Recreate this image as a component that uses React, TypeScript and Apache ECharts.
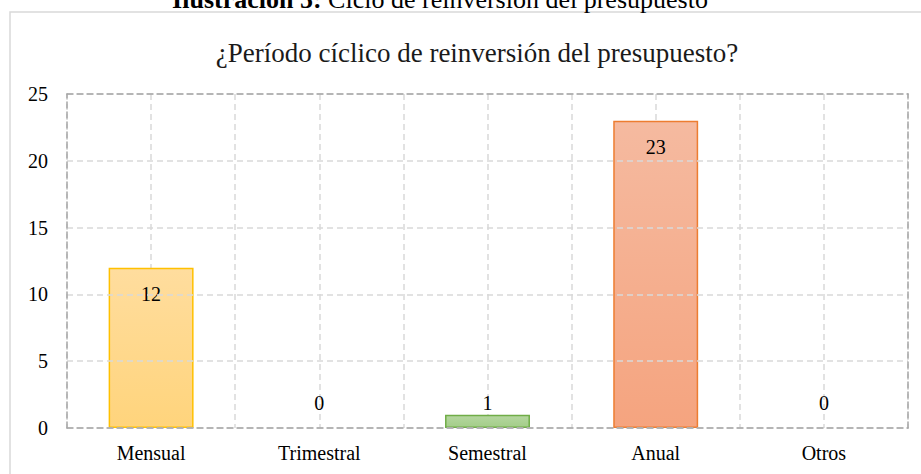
import React, { useEffect, useRef } from "react";
import * as echarts from "echarts";

const categories = ["Mensual", "Trimestral", "Semestral", "Anual", "Otros"];
const values = [12, 0, 1, 23, 0];
const yTicks = [0, 5, 10, 15, 20, 25];
const captionBold = "Ilustración 5:";
const captionRest = " Ciclo de reinversión del presupuesto";
const chartTitle = "¿Período cíclico de reinversión del presupuesto?";

const fills = [
  ["#FFDD9E", "#FFD47C", "#FFC000"],
  ["#FFDD9E", "#FFD47C", "#FFC000"],
  ["#B5D7A0", "#A3CD88", "#70AD47"],
  ["#F5BAA0", "#F5A47F", "#ED7D31"],
  ["#FFDD9E", "#FFD47C", "#FFC000"],
];

const FONT = "'Liberation Serif', 'Times New Roman', serif";

export default function App() {
  const ref = useRef<HTMLDivElement>(null);
  useEffect(() => {
    if (!ref.current) return;
    const chart = echarts.init(ref.current, undefined, { renderer: "svg" });
    const dark = "#A6A6A6";
    const light = "#D9D9D9";
    const dash = [6, 4];
    chart.setOption({
      animation: false,
      backgroundColor: "#fff",
      title: {
        text: chartTitle,
        left: 472,
        textAlign: "center",
        top: 34,
        textStyle: { fontFamily: FONT, fontSize: 27, fontWeight: "normal", color: "#1a1a1a" },
      },
      graphic: [
        {
          type: "rect",
          shape: { x: 10, y: 12, width: 1000, height: 600 },
          style: { fill: "none", stroke: light, lineWidth: 1.5 },
          silent: true,
        },
        {
          type: "text",
          x: 440,
          y: 9,
          style: {
            text: "{b|" + captionBold + "}{n|" + captionRest + "}",
            align: "center",
            verticalAlign: "bottom",
            rich: {
              b: { fontFamily: FONT, fontSize: 26, fontWeight: "bold", fill: "#000", lineHeight: 20 },
              n: { fontFamily: FONT, fontSize: 26, fill: "#000", lineHeight: 20 },
            },
          },
        },
      ],
      grid: { left: 67, right: 13, top: 94, bottom: 46 },
      xAxis: [
        {
          type: "category",
          data: categories,
          position: "bottom",
          axisLine: { show: true, lineStyle: { color: dark, type: dash, width: 1.5 } },
          axisTick: { show: false },
          axisLabel: { fontFamily: FONT, fontSize: 20, color: "#000", margin: 15 },
          splitLine: { show: false },
          z: 5,
        },
        {
          type: "value",
          min: 0,
          max: 10,
          interval: 1,
          position: "bottom",
          axisLine: { show: false },
          axisTick: { show: false },
          axisLabel: { show: false },
          splitLine: { show: true, lineStyle: { color: light, type: dash, width: 1.5 } },
        },
        {
          type: "category",
          data: categories,
          position: "top",
          axisLine: { show: true, lineStyle: { color: dark, type: dash, width: 1.5 } },
          axisTick: { show: false },
          axisLabel: { show: false },
          z: 5,
        },
      ],
      yAxis: [
        {
          type: "value",
          min: yTicks[0],
          max: yTicks[yTicks.length - 1],
          interval: 5,
          axisLine: { show: true, lineStyle: { color: dark, type: dash, width: 1.5 } },
          axisTick: { show: false },
          axisLabel: { fontFamily: FONT, fontSize: 20, color: "#000", margin: 19 },
          splitLine: { show: true, lineStyle: { color: light, type: dash, width: 1.5 } },
          z: 5,
        },
        {
          type: "value",
          min: yTicks[0],
          max: yTicks[yTicks.length - 1],
          interval: 5,
          position: "right",
          axisLine: { show: true, lineStyle: { color: dark, type: dash, width: 1.5 } },
          axisTick: { show: false },
          axisLabel: { show: false },
          splitLine: { show: false },
          z: 5,
        },
      ],
      series: [
        {
          type: "bar",
          xAxisIndex: 0,
          yAxisIndex: 0,
          barWidth: "50.5%",
          z: 3,
          data: values.map((v, i) => ({
            value: v,
            itemStyle: {
              color: new echarts.graphic.LinearGradient(0, 0, 0, 1, [
                { offset: 0, color: fills[i][0] },
                { offset: 1, color: fills[i][1] },
              ]),
              borderColor: fills[i][2],
              borderWidth: v === 0 ? 0 : 1.5,
              opacity: v === 0 ? 0 : 1,
            },
            label: {
              show: true,
              position: v >= 5 ? "insideTop" : "top",
              distance: v >= 5 ? 16 : v > 0 ? 2 : 15,
              fontFamily: FONT,
              fontSize: 20,
              color: "#000",
              opacity: 1,
            },
          })),
        },
      ],
    });
    return () => chart.dispose();
  }, []);
  return (
    <div
      ref={ref}
      style={{ width: 921, height: 474, position: "absolute", left: 0, top: 0 }}
    />
  );
}
